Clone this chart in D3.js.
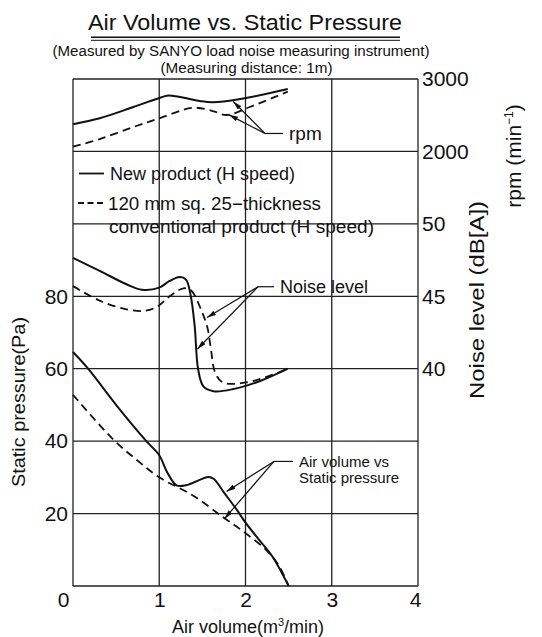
<!DOCTYPE html>
<html>
<head>
<meta charset="utf-8">
<script src="https://cdnjs.cloudflare.com/ajax/libs/d3/7.8.5/d3.min.js"></script>
<style>
  body { margin: 0; background: #fff; }
  svg { display: block; font-family: "Liberation Sans", Arial, sans-serif; fill: #111; }
  .grid line { stroke: #222; stroke-width: 1.3; }
  .curve { fill: none; stroke: #111; stroke-width: 2; }
  .curve.old { stroke-width: 1.8; stroke-dasharray: 8,5; }
  .tick-label { font-size: 21px; }
  .note line { stroke: #111; stroke-width: 1.2; }
</style>
</head>
<body>
<script>
// tick labels
const airTicks = [0, 1, 2, 3, 4];
const pressureTicks = [20, 40, 60, 80];
const noiseTicks = [40, 45, 50];
const rpmTicks = [2000, 3000];

// rpm (min-1)
const rpmNewAir = [0, 0.31, 0.7, 1.01, 1.09, 1.24, 1.47, 1.62, 1.94, 2.49];
const rpmNewVal = [2375, 2458, 2613, 2742, 2770, 2751, 2696, 2678, 2724, 2862];
const rpmOldAir = [0, 0.31, 0.7, 1.01, 1.39, 1.62, 1.78, 2.05, 2.49];
const rpmOldVal = [2065, 2171, 2337, 2461, 2603, 2558, 2503, 2613, 2825];

// noise level dB[A]
const noiseNewAir = [0, 0.31, 0.62, 0.8, 1.0, 1.12, 1.24, 1.31, 1.36, 1.41, 1.45, 1.51, 1.63, 1.86, 2.17, 2.49];
const noiseNewVal = [47.65, 46.75, 45.83, 45.45, 45.6, 46.06, 46.33, 46.15, 45.2, 43.0, 40.0, 38.8, 38.45, 38.6, 39.15, 40.0];
const noiseOldAir = [0, 0.31, 0.62, 0.84, 0.98, 1.12, 1.28, 1.37, 1.49, 1.56, 1.6, 1.65, 1.74, 2.01, 2.32, 2.49];
const noiseOldVal = [45.7, 44.7, 44.1, 44.0, 44.3, 45.0, 45.55, 45.4, 44.0, 42.8, 41.3, 39.7, 39.05, 39.05, 39.6, 40.0];

// static pressure (Pa)
const presNewAir = [0, 0.175, 0.52, 0.85, 1.0, 1.09, 1.2, 1.31, 1.57, 1.63, 1.76, 1.9, 2.0, 2.17, 2.31, 2.5];
const presNewVal = [64.6, 60, 49.4, 40, 36.1, 31.5, 27.8, 27.8, 30.1, 29.6, 25.5, 21, 17.5, 12.4, 8.2, 0];
const presOldAir = [0, 0.465, 0.74, 1.0, 1.39, 1.74, 2.0, 2.24, 2.39, 2.5];
const presOldVal = [52.8, 40.5, 34.8, 30.0, 25.0, 19.0, 14.6, 9.9, 5.5, 0];

const zip = (xs, ys) => xs.map((v, i) => [v, ys[i]]);

const W = 542, H = 637;
const plot = { left: 73, right: 418, top: 79, bottom: 586 };

const svg = d3.select("body").append("svg")
  .attr("width", W)
  .attr("height", H);

svg.append("rect").attr("width", W).attr("height", H).attr("fill", "#fff");

// scales - all three y scales share the same grid
const x = d3.scaleLinear().domain([0, 4]).range([plot.left, plot.right]);
const yP = d3.scaleLinear().domain([0, 140]).range([plot.bottom, plot.top]);
const yN = d3.scaleLinear().domain([25, 60]).range([plot.bottom, plot.top]);
const yR = d3.scaleLinear().domain([-4000, 3000]).range([plot.bottom, plot.top]);

// arrow head
svg.append("defs").append("marker")
  .attr("id", "arrow")
  .attr("viewBox", "0 -2.5 9 5")
  .attr("refX", 9)
  .attr("refY", 0)
  .attr("markerWidth", 9)
  .attr("markerHeight", 5)
  .attr("markerUnits", "userSpaceOnUse")
  .attr("orient", "auto")
  .append("path")
  .attr("d", "M0,-2.5L9,0L0,2.5Z")
  .attr("fill", "#111");

// grid + frame
const grid = svg.append("g").attr("class", "grid");
grid.selectAll(".vline")
  .data(airTicks)
  .enter().append("line")
  .attr("x1", d => x(d)).attr("x2", d => x(d))
  .attr("y1", plot.top).attr("y2", plot.bottom);
grid.selectAll(".hline")
  .data(d3.range(0, 141, 20))
  .enter().append("line")
  .attr("x1", plot.left).attr("x2", plot.right)
  .attr("y1", d => yP(d)).attr("y2", d => yP(d));

// title
svg.append("text")
  .attr("x", 245).attr("y", 30)
  .attr("text-anchor", "middle")
  .attr("font-size", 22)
  .attr("textLength", 314)
  .attr("lengthAdjust", "spacingAndGlyphs")
  .text("Air Volume vs. Static Pressure");
svg.append("line").attr("x1", 91).attr("x2", 400).attr("y1", 37.3).attr("y2", 37.3)
  .attr("stroke", "#111").attr("stroke-width", 1.6);
svg.append("line").attr("x1", 91).attr("x2", 400).attr("y1", 40.3).attr("y2", 40.3)
  .attr("stroke", "#111").attr("stroke-width", 1);
svg.append("text")
  .attr("x", 241).attr("y", 56)
  .attr("text-anchor", "middle")
  .attr("font-size", 14)
  .attr("textLength", 377)
  .attr("lengthAdjust", "spacingAndGlyphs")
  .text("(Measured by SANYO load noise  measuring instrument)");
svg.append("text")
  .attr("x", 246.5).attr("y", 72.7)
  .attr("text-anchor", "middle")
  .attr("font-size", 14)
  .attr("textLength", 172)
  .attr("lengthAdjust", "spacingAndGlyphs")
  .text("(Measuring distance: 1m)");

// axes
const styleAxis = (g) => {
  g.select(".domain").remove();
  g.selectAll(".tick line").remove();
  g.selectAll(".tick text")
    .attr("class", "tick-label")
    .attr("fill", "#111")
    .attr("font-family", null)
    .attr("font-size", null);
};

svg.append("g")
  .attr("transform", `translate(0,${plot.bottom})`)
  .call(d3.axisBottom(x).tickValues(airTicks).tickSize(0).tickPadding(6).tickFormat(d3.format("d")))
  .call(styleAxis)
  .call(g => g.selectAll(".tick text").filter(d => d === 0).attr("x", -10))
  .call(g => g.selectAll(".tick text").filter(d => d === 4).attr("x", -3));

svg.append("g")
  .attr("transform", `translate(${plot.left},0)`)
  .call(d3.axisLeft(yP).tickValues(pressureTicks).tickSize(0).tickPadding(5).tickFormat(d3.format("d")))
  .call(styleAxis);

svg.append("g")
  .attr("transform", `translate(${plot.right},0)`)
  .call(d3.axisRight(yN).tickValues(noiseTicks).tickSize(0).tickPadding(4).tickFormat(d3.format("d")))
  .call(styleAxis);

svg.append("g")
  .attr("transform", `translate(${plot.right},0)`)
  .call(d3.axisRight(yR).tickValues(rpmTicks).tickSize(0).tickPadding(4).tickFormat(d3.format("d")))
  .call(styleAxis);

// axis titles
svg.append("text")
  .attr("x", 248).attr("y", 633)
  .attr("text-anchor", "middle")
  .attr("font-size", 18)
  .html("Air volume(m<tspan font-size='11' dy='-7'>3</tspan><tspan dy='7'>/min)</tspan>");

svg.append("text")
  .attr("transform", "translate(25,402)rotate(-90)")
  .attr("text-anchor", "middle")
  .attr("font-size", 18)
  .attr("textLength", 170)
  .attr("lengthAdjust", "spacingAndGlyphs")
  .text("Static pressure(Pa)");

svg.append("text")
  .attr("transform", "translate(484,300)rotate(-90)")
  .attr("text-anchor", "middle")
  .attr("font-size", 21)
  .attr("textLength", 198)
  .attr("lengthAdjust", "spacingAndGlyphs")
  .text("Noise level (dB[A])");

svg.append("text")
  .attr("transform", "translate(521,156)rotate(-90)")
  .attr("text-anchor", "middle")
  .attr("font-size", 21)
  .html("rpm (min<tspan font-size='12' dy='-8'>−1</tspan><tspan dy='8'>)</tspan>");

// curves
const curve = d3.curveCatmullRom.alpha(0.5);
const lineR = d3.line().x(d => x(d[0])).y(d => yR(d[1])).curve(curve);
const lineN = d3.line().x(d => x(d[0])).y(d => yN(d[1])).curve(curve);
const lineP = d3.line().x(d => x(d[0])).y(d => yP(d[1])).curve(curve);

const curves = [
  { line: lineR, data: zip(rpmNewAir, rpmNewVal), cls: "new" },
  { line: lineR, data: zip(rpmOldAir, rpmOldVal), cls: "old" },
  { line: lineN, data: zip(noiseNewAir, noiseNewVal), cls: "new" },
  { line: lineN, data: zip(noiseOldAir, noiseOldVal), cls: "old" },
  { line: lineP, data: zip(presNewAir, presNewVal), cls: "new" },
  { line: lineP, data: zip(presOldAir, presOldVal), cls: "old" }
];

svg.selectAll(".curve")
  .data(curves)
  .enter().append("path")
  .attr("class", d => `curve ${d.cls}`)
  .attr("d", d => d.line(d.data));

// legend
const legend = svg.append("g").attr("font-size", 18);
legend.append("line").attr("x1", 79).attr("x2", 104).attr("y1", 173.5).attr("y2", 173.5)
  .attr("stroke", "#111").attr("stroke-width", 1.8);
legend.append("text").attr("x", 110).attr("y", 180).text("New product (H speed)");
legend.append("line").attr("x1", 78).attr("x2", 105).attr("y1", 203).attr("y2", 203)
  .attr("stroke", "#111").attr("stroke-width", 1.8).attr("stroke-dasharray", "6,3.5");
legend.append("text").attr("x", 108).attr("y", 210).attr("textLength", 213).attr("lengthAdjust", "spacingAndGlyphs").text("120 mm sq. 25−thickness");
legend.append("text").attr("x", 109).attr("y", 232.5).attr("textLength", 265).attr("lengthAdjust", "spacingAndGlyphs").text("conventional product (H speed)");

// callouts: junction + arrow tips in data units
const notes = [
  { scale: yR, from: [2.226, 2248], tips: [[1.858, 2690], [1.809, 2505]], len: 18, size: 19, lines: ["rpm"] },
  { scale: yN, from: [2.145, 45.66], tips: [[1.554, 43.53], [1.443, 41.36]], len: 16, size: 18, lines: ["Noise level"] },
  { scale: yP, from: [2.33, 34.4], tips: [[1.78, 26.1], [1.757, 18.6]], len: 19, size: 15, lines: ["Air volume vs", "Static pressure"] }
];

notes.forEach(n => {
  const g = svg.append("g").attr("class", "note");
  const fx = x(n.from[0]), fy = n.scale(n.from[1]);
  g.selectAll(".arr")
    .data(n.tips)
    .enter().append("line")
    .attr("x1", fx).attr("y1", fy)
    .attr("x2", d => x(d[0])).attr("y2", d => n.scale(d[1]))
    .attr("marker-end", "url(#arrow)");
  g.append("line")
    .attr("x1", fx).attr("x2", fx + n.len)
    .attr("y1", fy).attr("y2", fy);
  g.selectAll("text")
    .data(n.lines)
    .enter().append("text")
    .attr("x", fx + n.len + 6)
    .attr("y", (d, i) => fy + n.size * 0.36 + i * n.size * 1.1)
    .attr("font-size", n.size)
    .text(d => d);
});
</script>
</body>
</html>
